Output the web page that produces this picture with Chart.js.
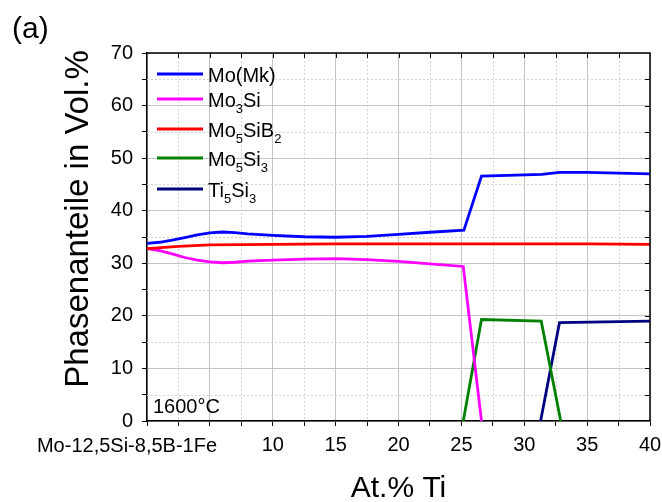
<!DOCTYPE html>
<html>
<head>
<meta charset="utf-8">
<script src="https://cdn.jsdelivr.net/npm/chart.js@4.4.0/dist/chart.umd.min.js"></script>
<style>
html, body { margin: 0; padding: 0; background: #fff; }
</style>
</head>
<body>
<canvas id="phaseChart" width="662" height="502"></canvas>
<script>
// Phase fractions (Vol.%) over At.% Ti
const moMkX = [0, 1, 2, 3, 4, 5, 6, 7, 8, 10, 12.5, 15, 17.5, 20, 22.5, 25.2, 26.6, 31.4, 32.8, 35, 40];
const moMkY = [33.8, 34.0, 34.4, 34.9, 35.4, 35.8, 35.95, 35.85, 35.6, 35.3, 35.05, 34.95, 35.1, 35.5, 35.9, 36.3, 46.6, 46.9, 47.3, 47.3, 47.0];

const mo3SiX = [0, 1, 2, 3, 4, 5, 6, 7, 8, 10, 12.5, 15, 17.5, 20, 22.5, 25.15, 26.6];
const mo3SiY = [32.8, 32.4, 31.8, 31.1, 30.6, 30.25, 30.1, 30.2, 30.4, 30.6, 30.8, 30.9, 30.7, 30.35, 29.9, 29.4, 0];

const mo5SiB2X = [0, 2.5, 5, 10, 15, 20, 25, 30, 35, 37.5, 40];
const mo5SiB2Y = [32.8, 33.2, 33.5, 33.6, 33.7, 33.7, 33.7, 33.7, 33.7, 33.65, 33.6];

const mo5Si3X = [25.15, 26.6, 31.35, 32.9];
const mo5Si3Y = [0, 19.3, 19.0, 0];

const ti5Si3X = [31.3, 32.8, 40];
const ti5Si3Y = [0, 18.7, 19.0];

const xTicks = [10, 15, 20, 25, 30, 35, 40];
const yTicks = [0, 10, 20, 30, 40, 50, 60, 70];
const baseAlloy = 'Mo-12,5Si-8,5B-1Fe';

function pts(xs, ys) {
    return xs.map((x, i) => ({ x: x, y: ys[i] }));
}

const FONT = '"Liberation Sans", Arial, sans-serif';
Chart.defaults.font.family = FONT;
Chart.defaults.color = '#000';

// text with digits set as subscripts (Mo5SiB2 etc.)
function drawChem(ctx, text, x, y) {
    const parts = text.split(/(\d+)/);
    parts.forEach((p, i) => {
        if (!p) return;
        const sub = /^\d+$/.test(p) && i > 0;
        ctx.font = (sub ? '13px ' : '20px ') + FONT;
        ctx.fillText(p, x, sub ? y + 6 : y);
        x += ctx.measureText(p).width;
    });
}

const extras = {
    id: 'extras',
    beforeDatasetsDraw(chart) {
        const { ctx, chartArea: a, scales: { x, y } } = chart;
        ctx.save();
        ctx.strokeStyle = '#d4d4d4';
        ctx.lineWidth = 1;
        ctx.setLineDash([2, 2]);
        for (let v = 2.5; v < 40; v += 5) {
            const px = Math.round(x.getPixelForValue(v)) + 0.5;
            ctx.beginPath(); ctx.moveTo(px, a.top); ctx.lineTo(px, a.bottom); ctx.stroke();
        }
        for (let v = 5; v < 70; v += 10) {
            const py = Math.round(y.getPixelForValue(v)) + 0.5;
            ctx.beginPath(); ctx.moveTo(a.left, py); ctx.lineTo(a.right, py); ctx.stroke();
        }
        ctx.restore();
    },
    afterDraw(chart) {
        const { ctx, chartArea: a, scales: { x, y } } = chart;
        ctx.save();
        // top / right frame with inward ticks
        ctx.strokeStyle = '#000';
        ctx.lineWidth = 1.5;
        ctx.beginPath();
        ctx.moveTo(a.left, a.top); ctx.lineTo(a.right, a.top); ctx.lineTo(a.right, a.bottom);
        ctx.stroke();
        ctx.lineWidth = 1;
        for (let v = 2.5; v < 40; v += 2.5) {
            const px = Math.round(x.getPixelForValue(v)) + 0.5;
            ctx.beginPath(); ctx.moveTo(px, a.top); ctx.lineTo(px, a.top + 5); ctx.stroke();
        }
        for (let v = 5; v < 70; v += 5) {
            const py = Math.round(y.getPixelForValue(v)) + 0.5;
            ctx.beginPath(); ctx.moveTo(a.right, py); ctx.lineTo(a.right - 5, py); ctx.stroke();
        }

        // legend
        const rows = [74, 99, 129, 158, 189];
        chart.data.datasets.forEach((ds, i) => {
            ctx.strokeStyle = ds.borderColor;
            ctx.lineWidth = 2.8;
            ctx.beginPath(); ctx.moveTo(157, rows[i]); ctx.lineTo(203, rows[i]); ctx.stroke();
            ctx.fillStyle = '#000';
            ctx.textAlign = 'left';
            ctx.textBaseline = 'alphabetic';
            drawChem(ctx, ds.label, 208, rows[i] + 7.5);
        });

        ctx.fillStyle = '#000';
        ctx.textBaseline = 'alphabetic';
        ctx.textAlign = 'left';
        ctx.font = '20px ' + FONT;
        ctx.fillText('1600°C', 153, 413);
        ctx.font = '30px ' + FONT;
        ctx.fillText('(a)', 12, 38);

        // label standing in for x = 0
        ctx.textAlign = 'center';
        ctx.font = '20px ' + FONT;
        ctx.fillText(baseAlloy, x.getPixelForValue(0) - 20, 452);

        // axis titles
        ctx.font = '30px ' + FONT;
        ctx.fillText('At.% Ti', (a.left + a.right) / 2, 497);
        ctx.translate(88, 219);
        ctx.rotate(-Math.PI / 2);
        ctx.font = '33px ' + FONT;
        ctx.fillText('Phasenanteile in Vol.%', 0, 0);
        ctx.restore();
    }
};

const lineStyle = { borderWidth: 2.8, pointRadius: 0, tension: 0, fill: false };

new Chart(document.getElementById('phaseChart').getContext('2d'), {
    type: 'line',
    data: {
        datasets: [
            { label: 'Mo(Mk)', data: pts(moMkX, moMkY), borderColor: '#0000ff', ...lineStyle },
            { label: 'Mo3Si', data: pts(mo3SiX, mo3SiY), borderColor: '#ff00ff', ...lineStyle },
            { label: 'Mo5SiB2', data: pts(mo5SiB2X, mo5SiB2Y), borderColor: '#ff0000', order: -1, ...lineStyle },
            { label: 'Mo5Si3', data: pts(mo5Si3X, mo5Si3Y), borderColor: '#008000', ...lineStyle },
            { label: 'Ti5Si3', data: pts(ti5Si3X, ti5Si3Y), borderColor: '#000080', ...lineStyle },
        ],
    },
    options: {
        responsive: false,
        animation: false,
        events: [],
        layout: { padding: { top: 53, right: 12, left: 0, bottom: 0 } },
        plugins: { legend: { display: false }, tooltip: { enabled: false } },
        scales: {
            x: {
                type: 'linear',
                min: 0,
                max: 40,
                afterFit: s => { s.height = 81; s.paddingLeft = 0; s.paddingRight = 0; },
                ticks: {
                    stepSize: 2.5,
                    autoSkip: false,
                    maxRotation: 0,
                    padding: 7,
                    color: '#000',
                    font: { size: 20 },
                    callback: v => xTicks.includes(v) ? String(v) : '',
                },
                grid: {
                    color: c => (c.tick && c.tick.value % 5 === 0) ? '#c4c4c4' : 'rgba(0,0,0,0)',
                    tickLength: 5,
                    tickColor: '#000',
                    tickWidth: 1,
                },
                border: { color: '#000', width: 1.5 },
            },
            y: {
                min: 0,
                max: 70,
                afterFit: s => { s.width = 147; s.paddingTop = 0; s.paddingBottom = 0; },
                ticks: {
                    stepSize: 5,
                    autoSkip: false,
                    padding: 9,
                    color: '#000',
                    font: { size: 20 },
                    callback: v => yTicks.includes(v) ? String(v) : '',
                },
                grid: {
                    color: c => (c.tick && c.tick.value % 10 === 0) ? '#c4c4c4' : 'rgba(0,0,0,0)',
                    tickLength: 5,
                    tickColor: '#000',
                    tickWidth: 1,
                },
                border: { color: '#000', width: 1.5 },
            },
        },
    },
    plugins: [extras],
});
</script>
</body>
</html>
